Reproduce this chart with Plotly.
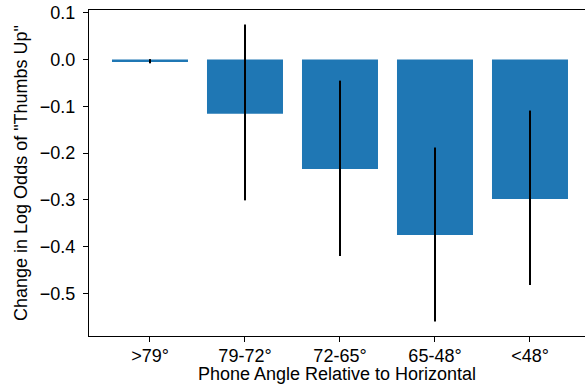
import plotly.graph_objects as go

categories = [">79°", "79-72°", "72-65°", "65-48°", "<48°"]
values = [-0.005, -0.116, -0.234, -0.375, -0.298]
upper = [0.001, 0.075, -0.045, -0.188, -0.109]
lower = [-0.008, -0.301, -0.420, -0.560, -0.482]
yticks = [0.1, 0.0, -0.1, -0.2, -0.3, -0.4, -0.5]

err_plus = [u - v for u, v in zip(upper, values)]
err_minus = [v - l for v, l in zip(values, lower)]
xpos = list(range(len(categories)))

fig = go.Figure()
fig.add_trace(go.Bar(
    x=xpos, y=values, width=0.8,
    marker=dict(color="#1f77b4", line=dict(width=0)),
    error_y=dict(type="data", symmetric=False, array=err_plus, arrayminus=err_minus,
                 color="black", thickness=2, width=0),
))

font = dict(family="Liberation Sans, Arial, sans-serif", size=18, color="black")
fig.update_layout(
    width=585, height=384,
    margin=dict(l=89, r=0, t=10, b=48),
    plot_bgcolor="white", paper_bgcolor="white",
    font=font, showlegend=False,
    xaxis=dict(
        range=[-0.642, 4.579], tickvals=xpos, ticktext=categories,
        showgrid=False, zeroline=False, showline=True, linecolor="black", linewidth=1,
        mirror=True, ticks="outside", ticklen=5, tickcolor="black", automargin=False,
        ticklabelstandoff=-2,
        title=dict(text="Phone Angle Relative to Horizontal", standoff=2, font=font),
    ),
    yaxis=dict(
        range=[-0.591, 0.106], tickvals=yticks, tickformat=".1f", automargin=False,
        showgrid=False, zeroline=False, showline=True, linecolor="black", linewidth=1,
        ticks="outside", ticklen=5, tickcolor="black", ticklabelstandoff=4,
        ticklabeloverflow="allow",
        title=dict(text='Change in Log Odds of "Thumbs Up"', standoff=7, font=font),
    ),
)

fig.write_html(
    "out.html",
    config={"displayModeBar": False},
    post_script="document.body.style.margin='0';document.body.style.padding='0';",
)
